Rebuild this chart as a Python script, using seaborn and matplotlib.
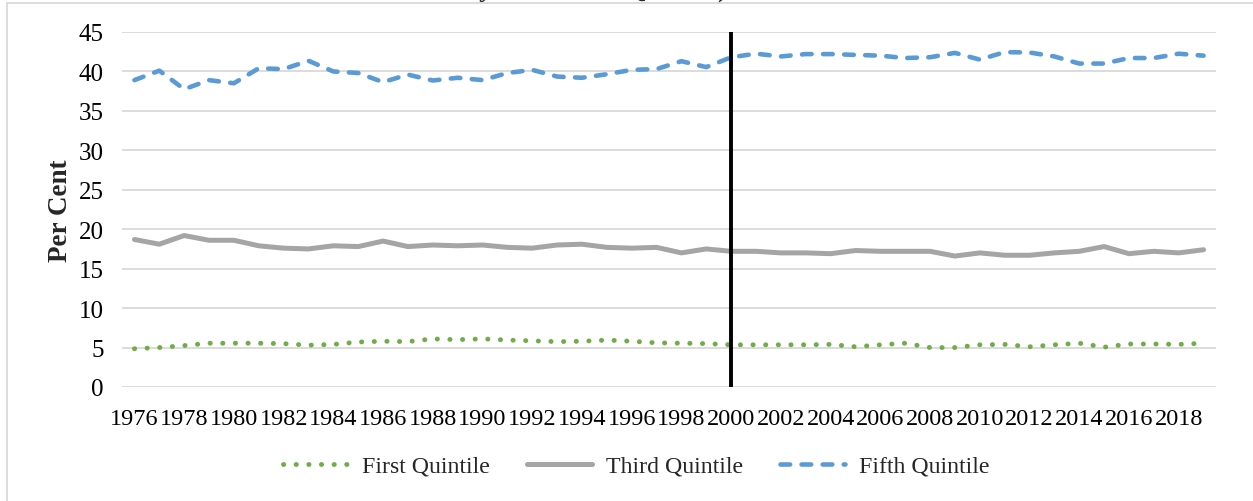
import matplotlib
matplotlib.use("Agg")
import matplotlib.pyplot as plt
import matplotlib.patches as mpatches
import seaborn as sns
import numpy as np
import pandas as pd

years = list(range(1976, 2020))
first_quintile = [4.85, 5.0, 5.25, 5.55, 5.55, 5.55, 5.5, 5.3, 5.4, 5.7,
                  5.8, 5.75, 6.1, 6.0, 6.1, 5.95, 5.85, 5.75, 5.8, 5.95,
                  5.8, 5.6, 5.55, 5.5, 5.35, 5.35, 5.35, 5.35, 5.4, 5.1,
                  5.35, 5.55, 5.0, 5.0, 5.35, 5.4, 5.1, 5.35, 5.55, 5.05,
                  5.45, 5.45, 5.4, 5.55]
third_quintile = [18.7, 18.1, 19.2, 18.6, 18.6, 17.9, 17.6, 17.5, 17.9, 17.8,
                  18.5, 17.8, 18.0, 17.9, 18.0, 17.7, 17.6, 18.0, 18.1, 17.7,
                  17.6, 17.7, 17.0, 17.5, 17.2, 17.2, 17.0, 17.0, 16.9, 17.3,
                  17.2, 17.2, 17.2, 16.6, 17.0, 16.7, 16.7, 17.0, 17.2, 17.8,
                  16.9, 17.2, 17.0, 17.4]
fifth_quintile = [38.9, 40.1, 37.75, 38.9, 38.5, 40.4, 40.3, 41.35, 40.0, 39.8,
                  38.65, 39.6, 38.85, 39.2, 38.9, 39.8, 40.2, 39.35, 39.2, 39.65,
                  40.2, 40.3, 41.3, 40.55, 41.8, 42.25, 41.9, 42.2, 42.2, 42.1,
                  42.0, 41.7, 41.8, 42.35, 41.5, 42.45, 42.4, 41.9, 41.0, 41.0,
                  41.7, 41.7, 42.25, 42.0]
series_names = ["First Quintile", "Third Quintile", "Fifth Quintile"]
series_colors = ["#70AD47", "#A5A5A5", "#5B9BD5"]
xtick_years = list(range(1976, 2019, 2))
yticks = list(range(0, 50, 5))
marker_year = 2000

sns.set_theme(style="white")
plt.rcParams['font.family'] = ['Liberation Serif', 'DejaVu Serif']

fig = plt.figure(figsize=(12.53, 5.02), dpi=100)
ax = fig.add_axes([122/1253, 1-388/502, (1216-122)/1253, (388-33)/502])

styles = [
    dict(linewidth=3.5, linestyle=(0, (0.05, 2.55)), dash_capstyle="round"),
    dict(linewidth=3.6, linestyle="-", solid_capstyle="round"),
    dict(linewidth=3.3, linestyle=(0, (2.1, 2.5)), dash_capstyle="round"),
]
data = [first_quintile, third_quintile, fifth_quintile]
for name, color, vals, st in zip(series_names, series_colors, data, styles):
    df = pd.DataFrame({"Year": years, "Value": vals})
    sns.lineplot(data=df, x="Year", y="Value", ax=ax, color=color,
                 label=name, **st)

ax.axvline(marker_year, ymin=0, ymax=1, color="black", linewidth=2.8, zorder=5)

ax.set_xlim(1975.5, 2019.5)
ax.set_ylim(0, 45)
ax.set_yticks(yticks)
ax.set_xticks(xtick_years)
ax.set_xticklabels([str(y) for y in xtick_years])
ax.grid(axis="y", color="#D9D9D9", linewidth=1.3)
ax.grid(axis="x", visible=False)
for s in ax.spines.values():
    s.set_visible(False)
ax.tick_params(axis="both", length=0, colors="black")
ax.tick_params(axis="x", pad=15, labelsize=17.5)
ax.tick_params(axis="y", pad=13, labelsize=18)
ax.set_xlabel("")
ax.set_ylabel("Per Cent", fontsize=19.5, fontweight="bold", labelpad=4)

leg = ax.legend(loc="center", bbox_to_anchor=(636/1253, 1-467/502),
                bbox_transform=fig.transFigure, ncol=3, frameon=False,
                fontsize=17.2, handlelength=2.75, handletextpad=0.55,
                columnspacing=1.55)

# title (mostly cut off at the top of the frame, as in the reference)
fig.text(727/1253, 1 + 30/502, "Shares of Total Income (Canada",
         ha="right", va="baseline", fontsize=19, fontweight="bold")
fig.text(727/1253, 1 + 3/502, "1976 to 2019 by Household Quintile)",
         ha="right", va="baseline", fontsize=19, fontweight="bold")

border = mpatches.Rectangle((7/1253, -0.1), 1.2, (1 - 4/502) + 0.1,
                            transform=fig.transFigure, fill=False,
                            edgecolor="#D9D9D9", linewidth=1.3)
fig.patches.append(border)

fig.savefig("out.png", dpi=100, facecolor="white")
